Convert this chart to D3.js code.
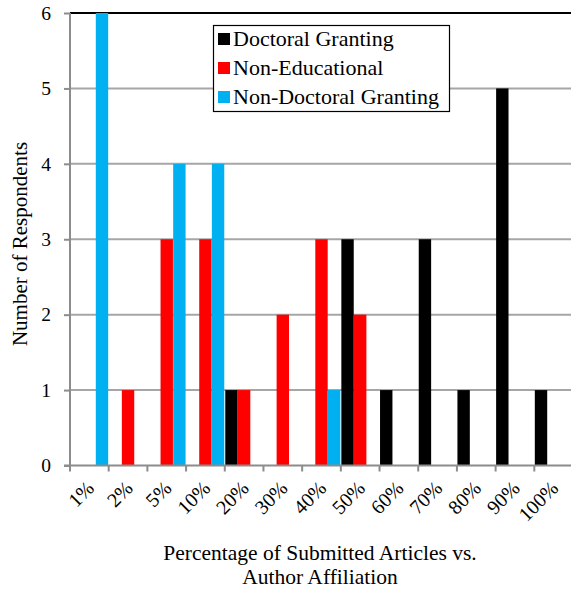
<!DOCTYPE html>
<html><head><meta charset="utf-8">
<script src="https://cdn.jsdelivr.net/npm/d3@7/dist/d3.min.js"></script>
<style>body{margin:0;background:#fff}svg{display:block}svg text{font-family:"Liberation Serif","Times New Roman",serif !important;fill:#000}</style>
</head><body>
<script>
const categories = ["1%","2%","5%","10%","20%","30%","40%","50%","60%","70%","80%","90%","100%"];
const seriesNames = ["Doctoral Granting","Non-Educational","Non-Doctoral Granting"];
const doctoral =    [0,0,0,0,1,0,0,3,1,3,1,5,1];
const nonEdu =      [0,1,3,3,1,2,3,2,0,0,0,0,0];
const nonDoctoral = [6,0,4,4,0,0,1,0,0,0,0,0,0];
const colors = ["#000000","#ff0000","#00b0f0"];
const yTicks = [0,1,2,3,4,5,6];

const W = 571, H = 592;
const FONT = '"Liberation Serif","Times New Roman",serif';
const svg = d3.select("body").append("svg").attr("width",W).attr("height",H);
const x0 = 70, x1 = 573, yTop = 13, yBot = 465.5;
const x = d3.scaleBand().domain(categories).range([x0,x1]).paddingInner(0).paddingOuter(0);
const xs = d3.scaleBand().domain(seriesNames).range([0,x.bandwidth()]).paddingInner(0.02).paddingOuter(0.04);
const y = d3.scaleLinear().domain([0,6]).range([yBot,yTop]);

// gridlines
svg.append("g").selectAll("line").data(yTicks.filter(d=>d>0 && d<6)).join("line")
  .attr("x1",x0).attr("x2",W).attr("y1",d=>y(d)).attr("y2",d=>y(d))
  .attr("stroke","#a6a6a6").attr("stroke-width",2);
// top border
svg.append("line").attr("x1",x0).attr("x2",W).attr("y1",y(6)).attr("y2",y(6)).attr("stroke","#000").attr("stroke-width",2);

const data = [doctoral,nonEdu,nonDoctoral];
data.forEach((vals,si)=>{
  svg.append("g").selectAll("rect").data(categories.map((c,i)=>({c,v:vals[i]})).filter(d=>d.v>0)).join("rect")
    .attr("x",d=>x(d.c)+xs(seriesNames[si]))
    .attr("width",xs.bandwidth())
    .attr("y",d=>y(d.v)).attr("height",d=>y(0)-y(d.v))
    .attr("fill",colors[si]);
});

// y axis
const yAxis = svg.append("g").attr("transform",`translate(${x0},0)`)
  .call(d3.axisLeft(y).tickValues(yTicks).tickFormat(d3.format("d")).tickSize(6).tickPadding(13));
yAxis.attr("font-family",FONT);
yAxis.select(".domain").attr("stroke","#8c8c8c").attr("stroke-width",2).attr("d",`M0,${yTop}V${yBot}`);
yAxis.selectAll(".tick line").attr("stroke","#8c8c8c").attr("stroke-width",2);
yAxis.selectAll(".tick text").attr("font-size",19).style("font-size","19.5px");

// x axis
const xAxis = svg.append("g").attr("transform",`translate(0,${yBot})`);
xAxis.append("line").attr("x1",x0-6).attr("x2",W).attr("y1",0).attr("y2",0).attr("stroke","#8c8c8c").attr("stroke-width",2);
xAxis.selectAll("line.t").data(categories).join("line").attr("class","t")
  .attr("x1",d=>x(d)).attr("x2",d=>x(d)).attr("y1",0).attr("y2",6)
  .attr("stroke","#8c8c8c").attr("stroke-width",2);
xAxis.selectAll("text").data(categories).join("text")
  .attr("transform",d=>`translate(${x(d)+x.bandwidth()/2+6},${24}) rotate(-45)`)
  .attr("text-anchor","end")
  .style("font-size","20px").text(d=>d);

// axis titles
svg.append("text").attr("x",320).attr("y",560).attr("text-anchor","middle").style("font-size","21.5px").text("Percentage of Submitted Articles vs.");
svg.append("text").attr("x",320).attr("y",584).attr("text-anchor","middle").style("font-size","21.5px").text("Author Affiliation");
svg.append("text").attr("transform","translate(27,244) rotate(-90)").attr("text-anchor","middle").style("font-size","21px").text("Number of Respondents");

// legend
const lg = svg.append("g");
lg.append("rect").attr("x",213.5).attr("y",25.5).attr("width",236).attr("height",86).attr("fill","#fff").attr("stroke","#000").attr("stroke-width",1.2);
seriesNames.forEach((n,i)=>{
  const cy = 39 + i*29;
  lg.append("rect").attr("x",218).attr("y",cy-6).attr("width",12).attr("height",12).attr("fill",colors[i]);
  lg.append("text").attr("x",233).attr("y",cy+7).style("font-size","22px").text(n);
});
</script>
</body></html>
